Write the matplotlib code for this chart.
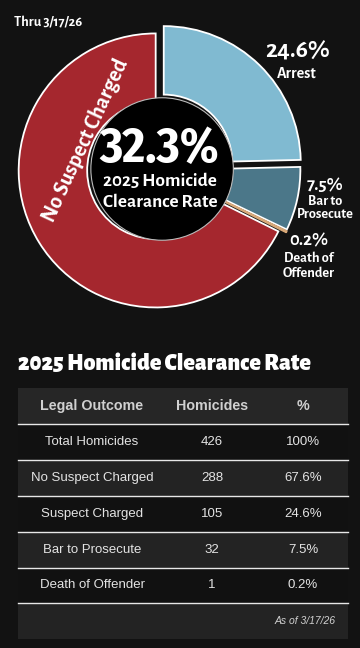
import matplotlib
matplotlib.use("Agg")
import matplotlib.pyplot as plt
from matplotlib.patches import Circle, Rectangle


# donut slices, clockwise from 12 o'clock
slice_names = ["Arrest", "Bar to\nProsecute", "Death of\nOffender", "No Suspect Charged"]
slice_pcts = [24.6, 7.5, 0.2, 67.6]
slice_colors = ["#80bad1", "#4b7789", "#d8a878", "#a5272e"]
clearance_rate = 32.3

# table
table_title = "2025 Homicide Clearance Rate"
table_header = ["Legal Outcome", "Homicides", "%"]
table_outcomes = ["Total Homicides", "No Suspect Charged", "Suspect Charged",
                  "Bar to Prosecute", "Death of Offender"]
table_counts = [426, 288, 105, 32, 1]
table_shares = ["100%", "67.6%", "24.6%", "7.5%", "0.2%"]
as_of = "As of 3/17/26"
thru = "Thru 3/17/26"

BG = "#121212"
COND = ["Fira Sans Condensed", "DejaVu Sans"]
ALEG = ["Alegreya Sans", "DejaVu Sans"]
W, H = 360, 648

fig = plt.figure(figsize=(W / 100, H / 100), dpi=100, facecolor=BG)

# pie axes: centre ~(158,169) px, radius ~137 px
cx, cy, R = 158, 169, 137
half = 1.25 * R
ax = fig.add_axes([(cx - half) / W, (H - cy - half) / H, 2 * half / W, 2 * half / H])
wedges, _ = ax.pie(slice_pcts, colors=slice_colors, startangle=90, counterclock=False,
                   explode=[0.06, 0.04, 0.045, 0.02],
                   wedgeprops=dict(width=0.5, edgecolor="white", linewidth=1.3))
wedges[2].set_edgecolor(slice_colors[2])
wedges[2].set_linewidth(1.0)
ax.set_xlim(-1.25, 1.25)
ax.set_ylim(-1.25, 1.25)
ax.set_aspect("equal")
ax.axis("off")
ax.add_patch(Circle((0.03, 0.0), 0.52, facecolor="black", edgecolor="#bbbbbb",
                    linewidth=0.8, zorder=5))

# overlay in pixel coords
ov = fig.add_axes([0, 0, 1, 1], facecolor="none")
ov.set_xlim(0, W)
ov.set_ylim(H, 0)
ov.axis("off")

ov.text(14, 22, thru, color="white", fontsize=10.3, fontweight="bold",
        family=ALEG, va="center")

ov.text(159, 149, f"{clearance_rate}%", color="white", fontsize=35.5, fontweight="bold",
        family=COND, ha="center", va="center", zorder=10)
ov.text(160, 181, "2025 Homicide", color="white", fontsize=13.8, fontweight="bold",
        family=ALEG, ha="center", va="center")
ov.text(160, 202, "Clearance Rate", color="white", fontsize=13.8, fontweight="bold",
        family=ALEG, ha="center", va="center")

ov.text(85, 140, slice_names[3], color="white", fontsize=16, fontweight="bold",
        family=ALEG, ha="center", va="center", rotation=65)

# outside labels: x, pct y, then one y per name line
label_pos = [(297, 51, [73]), (325, 185, [201, 214]), (309, 241, [258, 273])]
for (x, y1, ys), name, pct in zip(label_pos, slice_names[:3], slice_pcts[:3]):
    ov.text(x, y1, f"{pct}%", color="white", fontsize=18.3 if pct > 20 else 13.5,
            fontweight="bold", family=ALEG, ha="center", va="center")
    for y, line in zip(ys, name.split("\n")):
        ov.text(x, y, line, color="white", fontsize=11.5 if pct > 20 else 10.4,
                fontweight="bold", family=ALEG, ha="center", va="center")

# table
ov.text(18, 364, table_title, color="white", fontsize=17, fontweight=900,
        family=ALEG, va="center")

x0, x1 = 18, 348
row_h = 35.9
top = 388
col_x = [92, 212, 303]
row_cols = ["#262626", "#111111", "#232323", "#111111", "#232323", "#111111", "#232323"]
for i, c in enumerate(row_cols):
    ov.add_patch(Rectangle((x0, top + i * row_h), x1 - x0, row_h, facecolor=c,
                           edgecolor="none"))
for i in range(1, 7):
    ov.plot([x0, x1], [top + i * row_h] * 2, color="#e8e8e8", linewidth=1.0)

for x, h in zip(col_x, table_header):
    ov.text(x, top + row_h / 2, h, color="#d0d0d0", fontsize=10.3, fontweight="bold",
            family="Liberation Sans", ha="center", va="center")
for r, row in enumerate(zip(table_outcomes, table_counts, table_shares)):
    yc = top + (r + 1.5) * row_h
    for x, val in zip(col_x, row):
        ov.text(x, yc, str(val), color="#e3e3e3", fontsize=9.5,
                family="Liberation Sans", ha="center", va="center")
ov.text(336, top + 6.5 * row_h, as_of, color="#d0d0d0", fontsize=7.5, style="italic",
        family="Liberation Sans", ha="right", va="center")

fig.savefig("out.png", dpi=100, facecolor=BG)
